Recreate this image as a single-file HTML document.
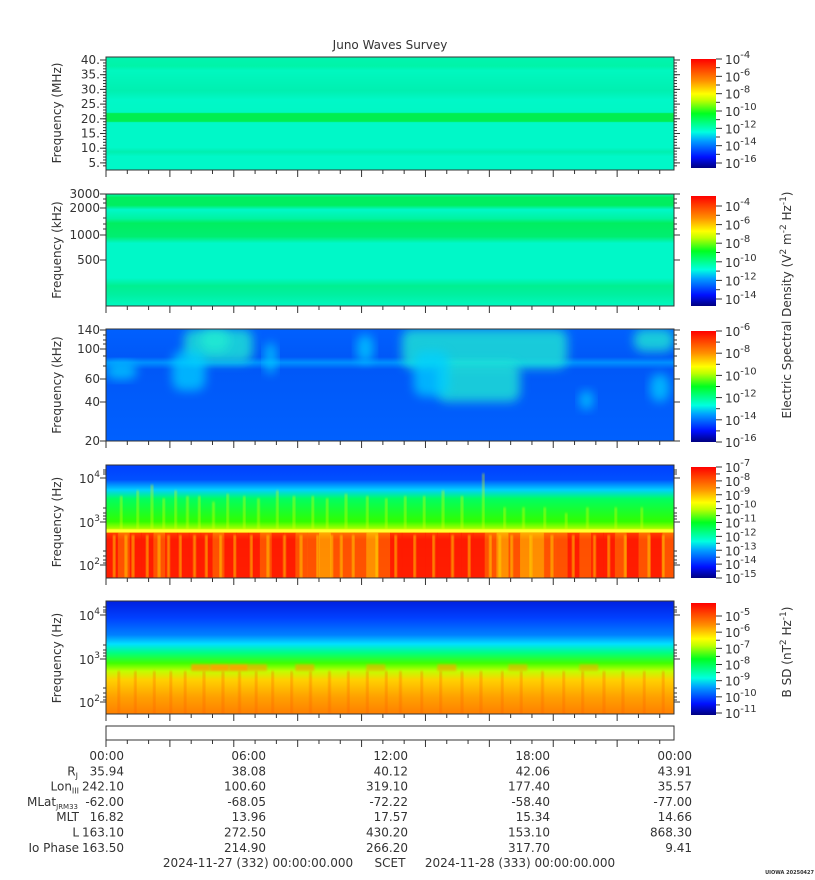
<!DOCTYPE html>
<html><head><meta charset="utf-8"><style>
body{margin:0;background:#fff;}
svg{display:block;font-family:"DejaVu Sans","Liberation Sans",sans-serif;}
text{fill:#333;}
</style></head><body>
<svg id="s" width="815" height="880" viewBox="0 0 815 880" xmlns="http://www.w3.org/2000/svg">
<defs>
<linearGradient id="jet" x1="0" y1="1" x2="0" y2="0">
<stop offset="0" stop-color="#000080"/><stop offset="0.1" stop-color="#0010ff"/><stop offset="0.25" stop-color="#00a0ff"/><stop offset="0.33" stop-color="#00ffe0"/><stop offset="0.5" stop-color="#00ff20"/><stop offset="0.62" stop-color="#c0ff00"/><stop offset="0.68" stop-color="#ffff00"/><stop offset="0.8" stop-color="#ff9000"/><stop offset="1" stop-color="#ff0000"/>
</linearGradient>
<linearGradient id="g1" x1="0" y1="0" x2="0" y2="1">
<stop offset="0" stop-color="#00f4b0"/><stop offset="0.08" stop-color="#00f4a8"/><stop offset="0.12" stop-color="#00f8c0"/><stop offset="0.3" stop-color="#00f0b0"/><stop offset="0.38" stop-color="#00f8c8"/><stop offset="0.49" stop-color="#00f8c4"/><stop offset="0.5" stop-color="#00ee50"/><stop offset="0.57" stop-color="#00ee50"/><stop offset="0.58" stop-color="#00f8c8"/><stop offset="0.8" stop-color="#00f8c8"/><stop offset="0.84" stop-color="#00f0b0"/><stop offset="0.88" stop-color="#00f8c8"/><stop offset="1" stop-color="#00f8c8"/>
</linearGradient>
<linearGradient id="g2" x1="0" y1="0" x2="0" y2="1">
<stop offset="0" stop-color="#00f8b0"/><stop offset="0.03" stop-color="#00ee60"/><stop offset="0.1" stop-color="#00ee60"/><stop offset="0.14" stop-color="#00f8c8"/><stop offset="0.22" stop-color="#00f4a0"/><stop offset="0.26" stop-color="#00ee60"/><stop offset="0.38" stop-color="#00ee70"/><stop offset="0.44" stop-color="#00f8c8"/><stop offset="0.75" stop-color="#00f8c8"/><stop offset="0.82" stop-color="#00f090"/><stop offset="0.9" stop-color="#00f0a0"/><stop offset="1" stop-color="#00f8c0"/>
</linearGradient>
<linearGradient id="g3" x1="0" y1="0" x2="0" y2="1">
<stop offset="0" stop-color="#0060ff"/><stop offset="0.25" stop-color="#0058f8"/><stop offset="0.3" stop-color="#0090ff"/><stop offset="0.36" stop-color="#0058f8"/><stop offset="1" stop-color="#0060ff"/>
</linearGradient>
<linearGradient id="g4" x1="0" y1="0" x2="0" y2="1">
<stop offset="0" stop-color="#0040ff"/><stop offset="0.13" stop-color="#0050ff"/><stop offset="0.22" stop-color="#00d0ff"/><stop offset="0.3" stop-color="#00ff60"/><stop offset="0.5" stop-color="#30ff00"/><stop offset="0.56" stop-color="#a0ff00"/><stop offset="0.575" stop-color="#ffff00"/><stop offset="0.6" stop-color="#ffa000"/><stop offset="0.66" stop-color="#ff2000"/><stop offset="1" stop-color="#ff3000"/>
</linearGradient>
<linearGradient id="g5" x1="0" y1="0" x2="0" y2="1">
<stop offset="0" stop-color="#0020e0"/><stop offset="0.15" stop-color="#0040ff"/><stop offset="0.3" stop-color="#0080ff"/><stop offset="0.38" stop-color="#00e0ff"/><stop offset="0.46" stop-color="#00ff80"/><stop offset="0.55" stop-color="#40ff00"/><stop offset="0.62" stop-color="#c0ff00"/><stop offset="0.7" stop-color="#ffd000"/><stop offset="0.85" stop-color="#ffa000"/><stop offset="1" stop-color="#ff8000"/>
</linearGradient>
<filter id="blur" x="-30%" y="-30%" width="160%" height="160%"><feGaussianBlur stdDeviation="5"/></filter>
<filter id="blur2" x="-30%" y="-30%" width="160%" height="160%"><feGaussianBlur stdDeviation="1"/></filter>
<clipPath id="c3"><rect x="106" y="329" width="568" height="112"/></clipPath>
<clipPath id="c4"><rect x="106" y="465" width="568" height="113"/></clipPath>
<clipPath id="c5"><rect x="106" y="601" width="568" height="113"/></clipPath>
</defs>
<text x="390" y="49" font-size="12" text-anchor="middle">Juno Waves Survey</text>
<g id="plots"></g>
<g id="overlay"></g>
</svg>
<script>
// ---- data ----
const timeTickHours = [0, 6, 12, 18, 24];
const timeLabels = ["00:00", "06:00", "12:00", "18:00", "00:00"];
const ephemRJ = ["35.94", "38.08", "40.12", "42.06", "43.91"];
const ephemLon = ["242.10", "100.60", "319.10", "177.40", "35.57"];
const ephemMLat = ["-62.00", "-68.05", "-72.22", "-58.40", "-77.00"];
const ephemMLT = ["16.82", "13.96", "17.57", "15.34", "14.66"];
const ephemL = ["163.10", "272.50", "430.20", "153.10", "868.30"];
const ephemIo = ["163.50", "214.90", "266.20", "317.70", "9.41"];
// panel 3 emission blobs: [startHour, endHour, topFrac, bottomFrac, level(0-1)]
const p3Blobs = [[3.3,6.2,0.0,0.3,0.7],[2.8,4.2,0.2,0.55,0.5],[4.0,5.2,0.0,0.2,0.6],[10.6,11.3,0.05,0.3,0.5],[12.5,19.5,0.0,0.35,0.6],[14.0,17.5,0.3,0.65,0.6],[13.0,14.5,0.2,0.6,0.5],[22.3,24,0.0,0.2,0.7],[0.0,1.3,0.3,0.45,0.3],[23.0,23.8,0.4,0.65,0.5],[6.7,7.2,0.12,0.4,0.3],[20.0,20.6,0.55,0.72,0.4]];
// panel 4 spikes into green zone: hour, height fraction
const p4Spikes = [[0.6,0.3],[1.3,0.35],[1.9,0.4],[2.4,0.28],[2.9,0.35],[3.4,0.3],[3.9,0.3],[4.5,0.25],[5.1,0.32],[5.8,0.3],[6.4,0.28],[7.2,0.35],[7.9,0.3],[8.7,0.3],[9.3,0.28],[10.1,0.32],[11.0,0.3],[11.8,0.28],[12.6,0.3],[13.4,0.3],[14.2,0.35],[15.0,0.3],[15.9,0.5],[16.8,0.2],[17.6,0.2],[18.5,0.2],[19.4,0.15],[20.3,0.2],[21.5,0.2],[22.6,0.2]];
// panel 4 low-frequency intensity per half hour (0 = yellow, 1 = red)
const p4Low = [0.9,0.6,0.8,0.95,0.7,0.9,0.95,0.8,0.9,0.6,0.85,0.9,0.95,0.7,0.8,0.9,0.6,0.7,0.5,0.6,0.7,0.6,0.5,0.6,0.8,0.9,0.95,0.9,0.8,0.85,0.9,0.95,0.7,0.5,0.6,0.4,0.5,0.7,0.6,0.8,0.7,0.8,0.9,0.7,0.8,0.75,0.8,0.7];
// panel 4 yellow streaks in low band: hour
const p4Streaks = [0.3,0.8,1.1,1.7,2.2,2.6,3.1,3.7,4.2,4.8,5.4,6.1,6.8,7.5,8.2,8.9,9.5,9.9,10.4,11.4,12.2,13.0,13.8,14.6,15.3,16.2,16.6,17.1,17.9,18.8,19.7,20.6,21.2,21.9,22.9,23.5];
// panel 5 orange bursts near 600 Hz: hour, level
const p5Bursts = [[3.6,0.8],[4.4,0.9],[5.2,0.9],[6.0,0.6],[8.0,0.6],[11.0,0.5],[14.0,0.6],[17.0,0.5],[20.0,0.5]];
// panel 5 vertical streaks: hour
const p5Streaks = [0.5,1.2,2.0,2.7,3.3,4.1,4.9,5.6,6.3,7.0,7.8,8.6,9.4,10.2,11.0,11.8,12.4,13.3,14.1,15.0,15.8,16.7,17.5,18.4,19.3,20.1,21.0,21.8,22.7,23.5];

// ---- helpers ----
const NS = "http://www.w3.org/2000/svg";
const X0 = 106, X1 = 674;
function xs(h){ return X0 + h/24*(X1-X0); }
function mk(tag, attrs, parent){ const e=document.createElementNS(NS,tag); for(const k in attrs) e.setAttribute(k,attrs[k]); parent.appendChild(e); return e; }
const plots = document.getElementById('plots');
const ov = document.getElementById('overlay');

const panels = [
 {y:57,h:113,fill:'url(#g1)',name:'mhz-panel'},
 {y:194,h:112,fill:'url(#g2)',name:'khz-high-panel'},
 {y:329,h:112,fill:'url(#g3)',name:'khz-low-panel'},
 {y:465,h:113,fill:'url(#g4)',name:'hz-electric-panel'},
 {y:601,h:113,fill:'url(#g5)',name:'hz-magnetic-panel'}
];
panels.forEach(p=>{
 const r = mk('rect',{x:X0,y:p.y,width:X1-X0,height:p.h,fill:p.fill},plots);
 
 
});

// panel 3 texture
const g3 = mk('g',{'clip-path':'url(#c3)'},plots);
for(let i=0;i<p3Blobs.length;i++){
 const b=p3Blobs[i]; const P=panels[2];
 const e=mk('rect',{x:xs(b[0]),y:P.y+b[2]*P.h,width:xs(b[1])-xs(b[0]),height:(b[3]-b[2])*P.h,rx:10,fill:b[4]>0.55?'#20f0d0':'#00d0ff',opacity:0.75,filter:'url(#blur)'},g3);
 
 
}
// panel 4 texture
const g4 = mk('g',{'clip-path':'url(#c4)'},plots);
const P4=panels[3];
const hw=(xs(0.5)-xs(0));
for(let i=0;i<p4Low.length;i++){
 const v=p4Low[i];
 const c = v>0.75?'#ff1800':(v>0.55?'#ff6000':'#ffb000');
 const e=mk('rect',{x:xs(i*0.5),y:P4.y+0.6*P4.h,width:hw+0.5,height:0.4*P4.h,fill:c,opacity:0.75},g4);
 
 
}
for(let i=0;i<p4Streaks.length;i++){
 const e=mk('rect',{x:xs(p4Streaks[i]),y:P4.y+0.62*P4.h,width:2,height:0.38*P4.h,fill:'#ffe000',opacity:0.8,filter:'url(#blur2)'},g4);
 
 
}
for(let i=0;i<p4Spikes.length;i++){
 const s=p4Spikes[i];
 const e=mk('rect',{x:xs(s[0]),y:P4.y+(0.575-s[1])*P4.h,width:2,height:s[1]*P4.h,fill:'#e0ff00',opacity:0.6,filter:'url(#blur2)'},g4);
 
 
}
mk('rect',{x:X0,y:P4.y+0.57*P4.h,width:X1-X0,height:3,fill:'#ffff30'},g4);
// panel 5 bursts
const g5 = mk('g',{'clip-path':'url(#c5)'},plots);
const P5=panels[4];
for(let i=0;i<p5Streaks.length;i++){
 const e=mk('rect',{x:xs(p5Streaks[i]),y:P5.y+0.62*P5.h,width:2,height:0.38*P5.h,fill:'#ff6000',opacity:0.5,filter:'url(#blur2)'},g5);
 
 
}
for(let i=0;i<p5Bursts.length;i++){
 const b=p5Bursts[i];
 const e=mk('rect',{x:xs(b[0]),y:P5.y+0.56*P5.h,width:xs(0.8)-xs(0),height:0.06*P5.h,fill:'#ffa000',opacity:b[1],filter:'url(#blur2)'},g5);
 
 
}

// frames & time ticks
function frame(y,h,name){
 const r=mk('rect',{x:X0,y:y,width:X1-X0,height:h,fill:'none',stroke:'#333','stroke-width':1},ov);
 
 
 const step=(X1-X0)/26.67;
 for(let i=0;X0+i*step<=X1+0.5;i++){
  const x=X0+i*step; const L=(i%3==0)?7:4;
  mk('line',{x1:x,y1:y+h,x2:x,y2:y+h+L,stroke:'#333'},ov);
 }
}
panels.forEach(p=>frame(p.y,p.h,p.name));
frame(726,14,'timeline');

// y axes
function ylabel(txt,cy){
 const t=mk('text',{x:0,y:0,'font-size':12,'text-anchor':'middle',transform:`translate(61,${cy}) rotate(-90)`},ov);
 t.textContent=txt;
 
 
}
function ytick(y,label,len){
 mk('line',{x1:X0-len,y1:y,x2:X0,y2:y,stroke:'#333'},ov);
 mk('line',{x1:X1,y1:y,x2:X1+len,y2:y,stroke:'#333'},ov);
 if(label){const t=mk('text',{x:X0-6,y:y+4,'font-size':12,'text-anchor':'end'},ov); t.textContent=label;
  }
}
const p1Ticks=["40.","35.","30.","25.","20.","15.","10.","5."];
ylabel('Frequency (MHz)',113);
for(let i=0;i<p1Ticks.length;i++) ytick(60+i*14.7,p1Ticks[i],6);
for(let y=60;y<168;y+=2.94) ytick(y,null,3);
ylabel('Frequency (kHz)',250);
[[194,"3000"],[208,"2000"],[235,"1000"],[260,"500"]].forEach(a=>ytick(a[0],a[1],6));
[[199],[203],[218],[224],[229]].forEach(a=>ytick(a[0],null,3));
ylabel('Frequency (kHz)',385);
[[330,"140"],[349,"100"],[379,"60"],[402,"40"],[441,"20"]].forEach(a=>ytick(a[0],a[1],6));
[[335],[340],[344],[356],[366]].forEach(a=>ytick(a[0],null,3));
function expLabel(x,y,base,exp,size){
 const t=mk('text',{x:x,y:y,'font-size':size||12,'text-anchor':'end'},ov);
 t.innerHTML=base+'<tspan dy="-6" font-size="9">'+exp+'</tspan>';
  
}
ylabel('Frequency (Hz)',522);
[[478,'4'],[522,'3'],[565,'2']].forEach(a=>{ytick(a[0],null,6);expLabel(X0-6,a[0]+5,'10',a[1]);});
[470,472,474,508,513,516,519,551,556,560,563].forEach(y=>ytick(y,null,3));
ylabel('Frequency (Hz)',658);
[[615,'4'],[659,'3'],[702,'2']].forEach(a=>{ytick(a[0],null,6);expLabel(X0-6,a[0]+5,'10',a[1]);});
[607,610,612,645,650,653,656,688,693,697,700].forEach(y=>ytick(y,null,3));

// colorbars
const cbs=[
 {y:59,h:109,top:0,bot:104,labels:['-4','-6','-8','-10','-12','-14','-16']},
 {y:196,h:110,top:10,bot:103,labels:['-4','-6','-8','-10','-12','-14']},
 {y:331,h:111,top:0,bot:111,labels:['-6','-8','-10','-12','-14','-16']},
 {y:467,h:111,top:0,bot:111,labels:['-7','-8','-9','-10','-11','-12','-13','-14','-15']},
 {y:603,h:112,top:13,bot:110,labels:['-5','-6','-7','-8','-9','-10','-11']}
];
cbs.forEach((c,ci)=>{
 const r=mk('rect',{x:691,y:c.y,width:25,height:c.h,fill:'url(#jet)'},ov);
  
 const n=c.labels.length; const top=c.y+c.top; const bot=c.y+c.bot;
 const step=(bot-top)/(n-1);
 for(let i=0;i<n;i++){
  const y=top+i*step;
  mk('line',{x1:716,y1:y,x2:722,y2:y,stroke:'#333'},ov);
  if(i<n-1) mk('line',{x1:716,y1:y+step/2,x2:720,y2:y+step/2,stroke:'#333'},ov);
  const t=mk('text',{x:725,y:y+5,'font-size':12},ov);
  t.innerHTML='10<tspan dy="-6" font-size="10">'+c.labels[i]+'</tspan>';
   
 }
});
function rtitle(html,cy){
 const t=mk('text',{x:0,y:0,'font-size':12,'text-anchor':'middle',transform:`translate(791,${cy}) rotate(-90)`},ov);
 t.innerHTML=html;
  
}
rtitle('Electric Spectral Density (V<tspan dy="-5" font-size="9">2</tspan><tspan dy="5"> m</tspan><tspan dy="-5" font-size="9">-2</tspan><tspan dy="5"> Hz</tspan><tspan dy="-5" font-size="9">-1</tspan><tspan dy="5">)</tspan>',305);
rtitle('B SD (nT<tspan dy="-5" font-size="9">2</tspan><tspan dy="5"> Hz</tspan><tspan dy="-5" font-size="9">-1</tspan><tspan dy="5">)</tspan>',652);

// bottom ephemeris table
function txt(x,y,s,anchor,name){const t=mk('text',{x:x,y:y,'font-size':12,'text-anchor':anchor||'end'},ov); t.innerHTML=s;   return t;}
const rowVals=[timeLabels,ephemRJ,ephemLon,ephemMLat,ephemMLT,ephemL,ephemIo];
const rowNames=[null,'R<tspan font-size="8" dy="3">J</tspan>','Lon<tspan font-size="8" dy="3">III</tspan>','MLat<tspan font-size="7" dy="3">JRM33</tspan>','MLT','L','Io Phase'];
const rowLabelX=[0,78,79,78,79,79,79];
for(let r=0;r<7;r++){
 const y=760+r*15.3;
 for(let i=0;i<timeTickHours.length;i++) txt(xs(timeTickHours[i])+18,y,rowVals[r][i],'end','ephemeris-value');
 if(rowNames[r]) txt(rowLabelX[r],y,rowNames[r],'end','ephemeris-row-label');
}
txt(258,867,'2024-11-27 (332) 00:00:00.000','middle','start-date');
txt(390,867,'SCET','middle','scet-label');
txt(520,867,'2024-11-28 (333) 00:00:00.000','middle','end-date');
const st=mk('text',{x:814,y:874,'font-size':5,'text-anchor':'end','font-weight':'bold'},ov); st.textContent='UIOWA 20250427';
 
</script>
</body></html>
